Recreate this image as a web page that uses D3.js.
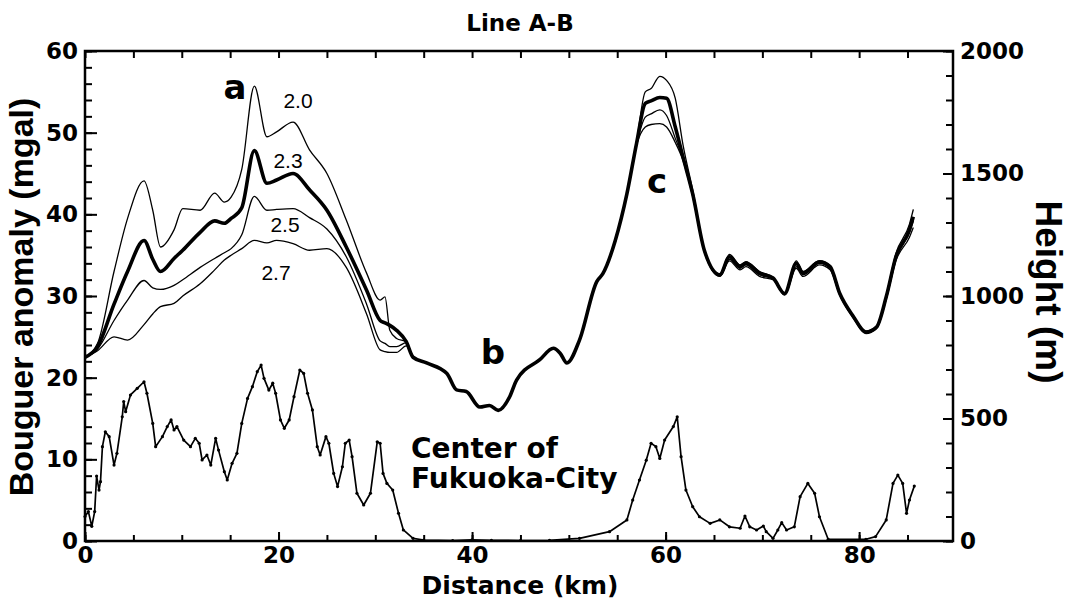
<!DOCTYPE html>
<html>
<head>
<meta charset="utf-8">
<script src="https://cdn.jsdelivr.net/npm/d3@7"></script>
<style>
  body { margin: 0; background: #fff; }
  text { font-family: "DejaVu Sans", sans-serif; font-weight: bold; fill: #000; }
</style>
</head>
<body>
<div id="chart"></div>
<script>
// gravity profiles (mgal) for the four densities, sampled at the same distances
const gravKm = [0, 1.3, 3, 4.4, 6.1, 7.0, 7.8, 9.2, 10.1, 11.9, 13.4, 14.4, 15.1, 16.2, 17.5, 18.8, 19.8, 21.5, 23.2, 25.0,
  27.0, 29.1, 30.5, 31.0, 31.5, 32.2, 33.2, 33.9, 35.3, 37.4, 38.4, 39.4, 40.8, 41.8, 42.7, 43.9, 44.6, 47.0, 48.4, 49.1,
  49.8, 51.1, 52.9, 53.5, 54.8, 56.0, 57.0, 57.9, 58.5, 59.4, 60.1, 61.0, 61.8, 62.8, 64.0, 65.6, 66.6, 67.7, 68.3, 69.7,
  71.1, 72.3, 73.5, 74.2, 75.9, 77.0, 78.0, 79.4, 80.7, 81.8, 82.8, 83.8, 85.2, 85.6];

const grav20 = [22.5, 24.2, 33.0, 39.5, 44.1, 40.5, 36.0, 38.1, 40.7, 40.5, 42.6, 41.5, 42.1, 45.5, 55.7, 49.5, 50.1, 51.3, 47.9, 45.0,
  39.3, 32.8, 29.5, 29.9, 25.8, 24.8, 24.4, 22.6, 21.8, 20.5, 18.5, 18.3, 16.4, 16.6, 16.0, 17.7, 19.7, 22.2, 23.6, 23.0,
  21.8, 24.6, 31.8, 32.7, 36.8, 42.5, 48.9, 55.0, 55.4, 56.9, 56.4, 54.2, 48.5, 43.0, 35.7, 32.7, 35.1, 33.8, 34.2, 33.0,
  32.3, 30.4, 34.3, 33.0, 34.3, 33.7, 30.4, 27.6, 25.7, 26.3, 30.1, 35.2, 38.8, 40.6];

const grav23 = [22.5, 23.8, 29.0, 33.0, 36.8, 34.5, 33.0, 34.6, 35.6, 37.8, 39.2, 38.9, 39.5, 40.8, 47.8, 43.8, 44.2, 45.0, 43.0, 40.5,
  36.0, 30.7, 27.0, 26.7, 26.4, 25.8, 24.4, 22.5, 21.8, 20.5, 18.5, 18.3, 16.4, 16.6, 16.0, 17.7, 19.7, 22.2, 23.6, 23.0,
  21.8, 24.6, 31.8, 32.7, 36.8, 42.5, 48.7, 53.6, 53.9, 54.3, 54.2, 50.7, 47.0, 42.5, 35.6, 32.6, 34.8, 33.6, 34.0, 32.8,
  32.2, 30.3, 34.0, 32.8, 34.2, 33.6, 30.3, 27.5, 25.6, 26.2, 29.9, 34.8, 38.1, 39.7];

const grav25 = [22.5, 23.5, 27.0, 29.5, 31.9, 31.0, 30.8, 31.3, 32.0, 33.5, 34.6, 35.3, 35.8, 37.5, 42.2, 40.5, 40.6, 40.7, 39.6, 38.2,
  34.8, 29.0, 24.5, 24.2, 23.8, 23.8, 24.3, 22.5, 21.8, 20.5, 18.5, 18.3, 16.4, 16.6, 16.0, 17.7, 19.7, 22.2, 23.6, 23.0,
  21.8, 24.6, 31.8, 32.7, 36.8, 42.5, 48.6, 51.9, 52.3, 52.8, 52.1, 49.3, 46.8, 42.3, 35.5, 32.5, 34.5, 33.4, 33.8, 32.6,
  32.1, 30.2, 33.6, 32.6, 34.0, 33.4, 30.2, 27.4, 25.5, 26.1, 29.7, 34.5, 37.8, 39.2];

const grav27 = [22.5, 23.3, 25.0, 24.6, 26.5, 27.8, 28.7, 29.1, 30.0, 31.5, 33.2, 34.4, 35.0, 35.8, 36.8, 36.5, 36.8, 36.4, 35.6, 35.8,
  33.5, 27.8, 23.4, 23.2, 23.1, 23.1, 23.9, 22.6, 21.8, 20.5, 18.5, 18.3, 16.4, 16.6, 16.0, 17.7, 19.7, 22.2, 23.6, 23.0,
  21.8, 24.6, 31.8, 32.7, 36.8, 42.5, 48.5, 50.7, 51.0, 51.1, 50.7, 48.8, 46.6, 42.2, 35.4, 32.4, 34.3, 33.2, 33.6, 32.4,
  32.0, 30.1, 33.4, 32.4, 33.8, 33.2, 30.1, 27.3, 25.4, 26.0, 29.6, 34.3, 37.2, 38.4];

const densityLabels = ['2.0', '2.3', '2.5', '2.7'];

// topography along the line (m)
const topoKm = [0.0, 0.35, 0.7, 1.0, 1.2, 1.45, 1.6, 1.8, 2.1, 2.5, 3.0, 3.3, 3.85, 4.0, 4.2, 4.7, 5.4, 6.1, 6.4, 7.0,
  7.3, 8.0, 8.5, 8.9, 9.2, 9.5, 10.2, 10.9, 11.4, 11.8, 12.1, 12.6, 13.0, 13.5, 13.8, 14.4, 14.7, 15.2, 15.7, 16.2,
  16.8, 17.3, 17.8, 18.2, 18.5, 19.0, 19.4, 19.7, 20.2, 20.6, 21.1, 21.6, 22.2, 22.6, 23.0, 23.5, 24.0, 24.3, 24.9, 25.2,
  25.7, 26.1, 26.6, 26.9, 27.3, 27.6, 28.1, 28.8, 29.5, 30.2, 30.5, 30.8, 31.2, 31.8, 32.4, 32.9, 33.9, 35.0, 38.0, 40.0,
  42.0, 45.0, 48.0, 51.1, 54.2, 56.0, 56.6, 57.3, 58.0, 58.5, 59.0, 59.4, 59.9, 60.8, 61.2, 61.6, 62.1, 62.8, 63.5, 64.6,
  65.6, 66.6, 67.7, 68.2, 68.7, 69.4, 70.1, 70.4, 71.1, 71.6, 72.0, 72.5, 73.3, 73.9, 74.7, 75.4, 75.9, 76.8, 80.7, 81.7,
  82.8, 83.5, 84.0, 84.5, 84.9, 85.2, 85.7];

const topoM = [100, 120, 60, 120, 265, 208, 242, 385, 446, 426, 310, 358, 507, 569, 528, 596, 623, 650, 603, 480,
  385, 426, 467, 494, 453, 467, 412, 385, 419, 399, 331, 351, 310, 419, 371, 283, 249, 317, 358, 480,
  582, 630, 691, 718, 664, 616, 644, 603, 494, 460, 494, 589, 698, 684, 603, 535, 385, 351, 426, 399,
  276, 222, 303, 399, 412, 344, 195, 147, 195, 405, 399, 276, 235, 208, 113, 45, 11, 4, 2, 5,
  3, 2, 3, 11, 38, 86, 167, 249, 330, 399, 385, 337, 412, 467, 507, 344, 208, 140, 99, 72,
  86, 58, 52, 102, 58, 45, 61, 38, 11, 45, 75, 45, 58, 181, 235, 195, 99, 7, 7, 18,
  86, 235, 269, 235, 113, 167, 224];

const xTicks = [0, 20, 40, 60, 80];
const gravTicks = [0, 10, 20, 30, 40, 50, 60];
const heightTicks = [0, 500, 1000, 1500, 2000];

function drawChart(container) {
  const width = 1068, height = 601;
  const left = 85, right = 953, top = 51, bottom = 541;

  const svg = d3.select(container).append('svg')
    .attr('width', width)
    .attr('height', height);

  const x = d3.scaleLinear().domain([0, 89.7]).range([left, right]);
  const yG = d3.scaleLinear().domain([0, 60]).range([bottom, top]);
  const yH = d3.scaleLinear().domain([0, 2000]).range([bottom, top]);

  // ticks point inward, labels outside
  function addAxis(axis, tx, ty) {
    const g = svg.append('g').attr('transform', `translate(${tx},${ty})`).call(axis);
    g.select('.domain').remove();
    g.selectAll('line').attr('stroke', '#000').attr('stroke-width', 2);
    g.selectAll('text').style('font-size', '23px').style('font-family', '"DejaVu Sans", sans-serif').style('font-weight', 'bold');
    return g;
  }
  const minorKm = d3.range(0, 90, 5);
  addAxis(d3.axisBottom(x).tickValues(minorKm).tickFormat('').tickSize(-6), 0, bottom);
  addAxis(d3.axisBottom(x).tickValues(xTicks).tickFormat(d3.format('d')).tickSize(-9).tickPadding(6), 0, bottom);
  addAxis(d3.axisTop(x).tickValues(minorKm).tickFormat('').tickSize(-7), 0, top);
  addAxis(d3.axisLeft(yG).tickValues(d3.range(0, 61, 2)).tickFormat('').tickSize(-7), left, 0);
  addAxis(d3.axisLeft(yG).tickValues(gravTicks).tickSize(-12).tickPadding(7), left, 0);
  addAxis(d3.axisRight(yH).tickValues(d3.range(0, 2001, 100)).tickFormat('').tickSize(-7), right, 0);
  addAxis(d3.axisRight(yH).tickValues(heightTicks).tickFormat(d3.format('d')).tickSize(-10).tickPadding(7), right, 0);

  // frame
  svg.append('rect')
    .attr('x', left).attr('y', top)
    .attr('width', right - left).attr('height', bottom - top)
    .attr('fill', 'none').attr('stroke', '#000').attr('stroke-width', 2.5);

  // topography with dot markers
  const topo = topoKm.map((k, i) => ({km: k, v: topoM[i]}));
  const topoLine = d3.line().x(d => x(d.km)).y(d => yH(d.v));
  svg.append('path').datum(topo)
    .attr('d', topoLine)
    .attr('fill', 'none').attr('stroke', '#000').attr('stroke-width', 1.7)
    .attr('stroke-linejoin', 'round');
  svg.append('g').selectAll('circle').data(topo).join('circle')
    .attr('cx', d => x(d.km)).attr('cy', d => yH(d.v))
    .attr('r', 1.6).attr('fill', '#000');

  // bouguer anomaly curves
  const gravLine = d3.line().x(d => x(d.km)).y(d => yG(d.v)).curve(d3.curveMonotoneX);
  const series = [grav20, grav23, grav25, grav27];
  series.forEach((vals, i) => {
    const pts = gravKm.map((k, j) => ({km: k, v: vals[j]}));
    svg.append('path').datum(pts)
      .attr('d', gravLine)
      .attr('fill', 'none').attr('stroke', '#000')
      .attr('stroke-width', i === 1 ? 3.6 : 1.3)
      .attr('stroke-linejoin', 'round');
  });

  // density labels
  const labelPos = [[298, 108], [288, 168], [285, 232], [276, 280]];
  densityLabels.forEach((t, i) => {
    svg.append('text')
      .attr('x', labelPos[i][0]).attr('y', labelPos[i][1])
      .attr('text-anchor', 'middle')
      .style('font-family', '"Liberation Sans", sans-serif')
      .style('font-weight', 'normal')
      .style('font-size', '21px')
      .text(t);
  });

  // letters a, b, c
  [['a', 235, 99], ['b', 493, 364], ['c', 657, 193]].forEach(d => {
    svg.append('text').attr('x', d[1]).attr('y', d[2])
      .attr('text-anchor', 'middle').style('font-size', '34px').text(d[0]);
  });

  // city label
  svg.append('text').attr('x', 411).attr('y', 458).style('font-size', '28px').text('Center of');
  svg.append('text').attr('x', 411).attr('y', 488).style('font-size', '28px').text('Fukuoka-City');

  // titles
  svg.append('text').attr('x', 520).attr('y', 31)
    .attr('text-anchor', 'middle').style('font-size', '23px').text('Line A-B');
  svg.append('text').attr('x', 520).attr('y', 594)
    .attr('text-anchor', 'middle').style('font-size', '25px').text('Distance (km)');
  svg.append('text')
    .attr('transform', 'translate(33,297) rotate(-90)')
    .attr('text-anchor', 'middle')
    .style('font-family', '"Liberation Sans", sans-serif')
    .style('font-size', '34px').text('Bouguer anomaly (mgal)');
  svg.append('text')
    .attr('transform', 'translate(1036,292) rotate(90)')
    .attr('text-anchor', 'middle')
    .style('font-family', '"Liberation Sans", sans-serif')
    .style('font-size', '37px').text('Height (m)');
}

drawChart('#chart');
</script>
</body>
</html>
